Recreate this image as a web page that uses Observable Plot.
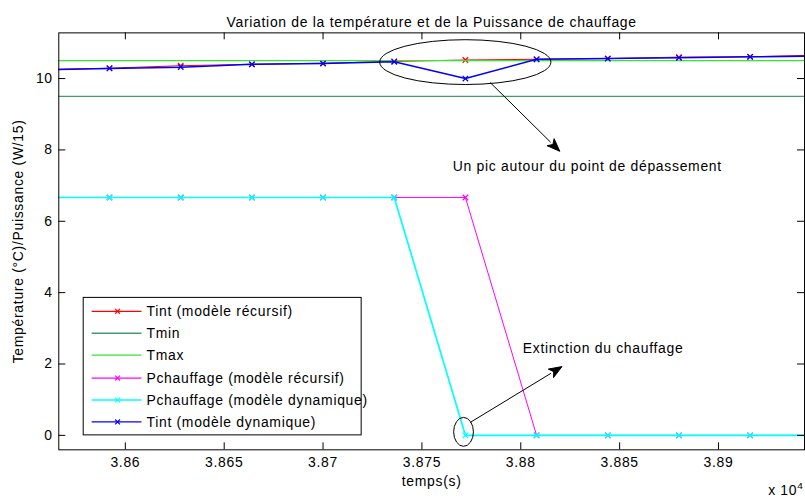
<!DOCTYPE html>
<html><head><meta charset="utf-8">
<script src="https://cdn.jsdelivr.net/npm/d3@7"></script>
<script src="https://cdn.jsdelivr.net/npm/@observablehq/plot@0.6"></script>
<style>
html,body{margin:0;padding:0;background:#fff;overflow:hidden;width:805px;height:499px}
svg text{letter-spacing:0.7px}
</style></head><body><div id="chart"></div>
<script>
// ---- data (time in s x 10^4) ----
const time = [3.8556, 3.8592, 3.8628, 3.8664, 3.8700, 3.8736, 3.8772, 3.8808, 3.8844, 3.8880, 3.8916, 3.8952];
const tintRecursif  = [10.25, 10.29, 10.36, 10.40, 10.43, 10.48, 10.52, 10.54, 10.56, 10.60, 10.61, 10.66];
const tintDynamique = [10.245, 10.285, 10.32, 10.40, 10.42, 10.47, 10.00, 10.54, 10.56, 10.58, 10.61, 10.63];
const pRecursif  = [6.667, 6.667, 6.667, 6.667, 6.667, 6.667, 6.667, 0, 0, 0, 0, 0];
const pDynamique = [6.667, 6.667, 6.667, 6.667, 6.667, 6.667, 0, 0, 0, 0, 0, 0];
const tmin = [9.5];
const tmax = [10.5];
const xTicks = [3.86, 3.865, 3.87, 3.875, 3.88, 3.885, 3.89];
const xTickLabels = ["3.86", "3.865", "3.87", "3.875", "3.88", "3.885", "3.89"];
const yTicks = [0, 2, 4, 6, 8, 10];
const seriesNames = ["Tint (modèle récursif)", "Tmin", "Tmax", "Pchauffage (modèle récursif)", "Pchauffage (modèle dynamique)", "Tint (modèle dynamique)"];
const seriesColors = ["#ff0000", "#459a6d", "#33e633", "#ff00ff", "#00ffff", "#0000ff"];
const seriesWidths = [1.0, 1.3, 1.3, 1.0, 1.7, 1.5];
const seriesMarkers = [true, false, false, true, true, true];
const titleText = "Variation de la température et de la Puissance de chauffage";
const xLabel = "temps(s)";
const yLabel = "Température (°C)/Puissance (W/15)";
const xExponentBase = "x 10";
const xExponentPower = "4";
// annotations (data coordinates)
const notes = [
  {t: 3.87656, v: 7.53, label: "Un pic autour du point de dépassement"},
  {t: 3.8801, v: 2.44, label: "Extinction du chauffage"}
];
const ellipses = [
  {t: 3.87722, v: 10.447, rt: 0.00433, rv: 0.628},
  {t: 3.87713, v: 0.084, rt: 0.0005, rv: 0.405}
];
const arrows = [
  {t1: 3.87848, v1: 9.874, t2: 3.88200, v2: 7.947},
  {t1: 3.87747, v1: 0.349, t2: 3.88211, v2: 1.913}
];

// ---- layout ----
const W = 808, H = 499;
const mL = 58.5, mR = 1, mT = 32.5, mB = 48;
const plotW = W - mL - mR, plotH = H - mT - mB;
const rows = (ys) => time.map((t, i) => ({t, v: ys[i]}));
const seriesData = [tintRecursif, null, null, pRecursif, pDynamique, tintDynamique];

const marks = [];
seriesData.forEach((ys, k) => {
  if (k === 1) { marks.push(Plot.ruleY(tmin, {stroke: seriesColors[1], strokeWidth: seriesWidths[1]})); return; }
  if (k === 2) { marks.push(Plot.ruleY(tmax, {stroke: seriesColors[2], strokeWidth: seriesWidths[2]})); return; }
  marks.push(Plot.line(rows(ys), {x: "t", y: "v", stroke: seriesColors[k], strokeWidth: seriesWidths[k], clip: true}));
  marks.push(Plot.dot(rows(ys), {x: "t", y: "v", symbol: "times", r: 2.6, stroke: seriesColors[k], strokeWidth: 1.2, clip: true}));
});
marks.push(
  Plot.frame({stroke: "black", strokeWidth: 1}),
  Plot.tickX(xTicks, {x: d => d, insetTop: plotH - 7, stroke: "black"}),
  Plot.tickX(xTicks, {x: d => d, insetBottom: plotH - 7, stroke: "black"}),
  Plot.tickY(yTicks, {y: d => d, insetRight: plotW - 7, stroke: "black"}),
  Plot.tickY(yTicks, {y: d => d, insetLeft: plotW - 7, stroke: "black"}),
  Plot.axisX({ticks: xTicks, tickSize: 0, tickPadding: 7, label: null, tickFormat: d => xTickLabels[xTicks.indexOf(d)]}),
  Plot.axisY({ticks: yTicks, tickSize: 0, tickPadding: 6, label: null}),
  Plot.text([titleText], {frameAnchor: "top", dy: -16, text: d => d, fill: "black"}),
  Plot.text([xLabel], {frameAnchor: "bottom", dy: 36, text: d => d, fill: "black"}),
  Plot.text([yLabel], {frameAnchor: "left", dx: -40.5, rotate: -90, textAnchor: "middle", text: d => d, fill: "black"}),
  Plot.text(notes, {x: "t", y: "v", text: "label", textAnchor: "start", fill: "black"})
);

const plot = Plot.plot({
  width: W, height: H,
  marginLeft: mL, marginRight: mR, marginTop: mT, marginBottom: mB,
  style: {fontFamily: "'Liberation Sans', Arial, sans-serif", fontSize: "14px", background: "#fff", color: "black", overflow: "visible"},
  x: {domain: [3.856634, 3.89435]},
  y: {domain: [-0.405, 11.28]},
  marks
});

// ---- annotations: ellipses and arrows ----
const sx = plot.scale("x"), sy = plot.scale("y");
const svg = d3.select(plot);
const ann = svg.append("g").attr("fill", "none").attr("stroke", "black").attr("stroke-width", 1);
ellipses.forEach(e => {
  ann.append("ellipse")
    .attr("cx", sx.apply(e.t)).attr("cy", sy.apply(e.v))
    .attr("rx", Math.abs(sx.apply(e.t + e.rt) - sx.apply(e.t)))
    .attr("ry", Math.abs(sy.apply(e.v + e.rv) - sy.apply(e.v)));
});
arrows.forEach(a => {
  const x1 = sx.apply(a.t1), y1 = sy.apply(a.v1), x2 = sx.apply(a.t2), y2 = sy.apply(a.v2);
  const ang = Math.atan2(y2 - y1, x2 - x1), L = 13, Hw = 5;
  const bx = x2 - L * Math.cos(ang), by = y2 - L * Math.sin(ang);
  ann.append("line").attr("x1", x1).attr("y1", y1).attr("x2", bx).attr("y2", by);
  const px = -Math.sin(ang) * Hw, py = Math.cos(ang) * Hw;
  ann.append("path").attr("fill", "black").attr("stroke", "black")
    .attr("d", `M${x2},${y2}L${bx + px},${by + py}L${bx + L * 0.25 * Math.cos(ang)},${by + L * 0.25 * Math.sin(ang)}L${bx - px},${by - py}Z`);
});

// exponent label at the right end of the x axis
const ex = svg.append("text").attr("x", 771).attr("y", 497).attr("text-anchor", "start").attr("fill", "black");
ex.append("tspan").text(xExponentBase);
ex.append("tspan").attr("dy", -6).attr("font-size", "10px").text(xExponentPower);

// ---- legend ----
const lg = svg.append("g").attr("text-anchor", "start");
const lx = 83.5, ly = 298.5, lw = 279, lh = 138;
lg.append("rect").attr("x", lx).attr("y", ly).attr("width", lw).attr("height", lh)
  .attr("fill", "#fff").attr("stroke", "black").attr("stroke-width", 1);
seriesNames.forEach((name, i) => {
  const yy = Math.round(311.7 + i * 22.3) + 0.5;
  lg.append("line").attr("x1", 92).attr("x2", 142).attr("y1", yy).attr("y2", yy)
    .attr("stroke", seriesColors[i]).attr("stroke-width", 1.3);
  if (seriesMarkers[i]) {
    const s = 2.4;
    lg.append("path").attr("d", `M${118 - s},${yy - s}L${118 + s},${yy + s}M${118 - s},${yy + s}L${118 + s},${yy - s}`)
      .attr("stroke", seriesColors[i]).attr("stroke-width", 1.2).attr("fill", "none");
  }
  lg.append("text").attr("x", 147).attr("y", yy).attr("dy", "0.35em").attr("fill", "black").text(name);
});

document.getElementById("chart").appendChild(plot);
</script></body></html>
